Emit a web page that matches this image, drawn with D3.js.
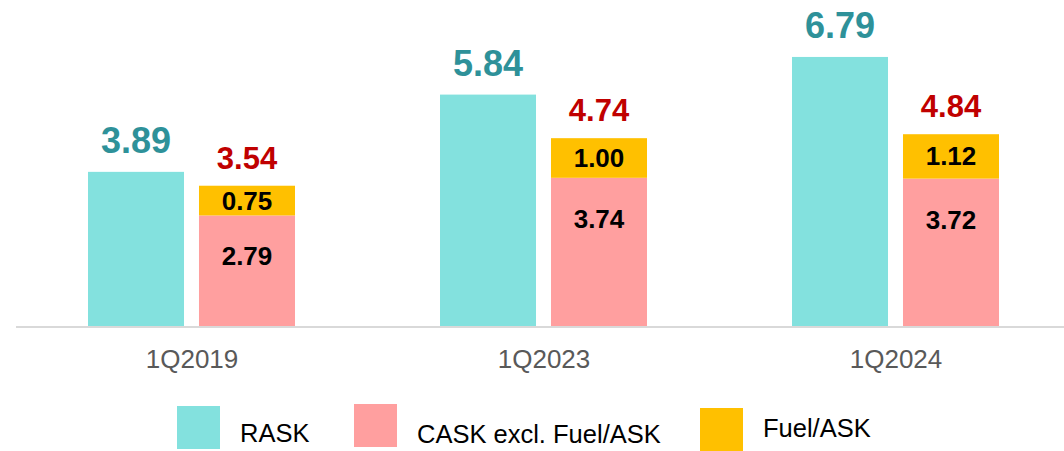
<!DOCTYPE html>
<html>
<head>
<meta charset="utf-8">
<script src="https://cdn.jsdelivr.net/npm/d3@7/dist/d3.min.js"></script>
<style>
  html, body { margin: 0; padding: 0; background: #fff; }
  svg { display: block; font-family: "Liberation Sans", Arial, sans-serif; }
</style>
</head>
<body>
<svg id="chart" width="1064" height="451"></svg>
<script>
// Unit revenue vs unit cost (per ASK)
const quarters = ["1Q2019", "1Q2023", "1Q2024"];
const rask = [3.89, 5.84, 6.79];
const caskExFuel = [2.79, 3.74, 3.72];
const fuelAsk = [0.75, 1.00, 1.12];
const caskTotal = [3.54, 4.74, 4.84];
const legendLabels = ["RASK", "CASK excl. Fuel/ASK", "Fuel/ASK"];

const colors = {
  rask: "#83E1DE",
  cask: "#FF9F9F",
  fuel: "#FFC000",
  raskLabel: "#2E9199",
  totalLabel: "#C00000",
  axis: "#D9D9D9",
  category: "#595959"
};

const svg = d3.select("#chart");
const baseY = 326;

const x0 = d3.scaleBand().domain(quarters).range([16, 1072]).padding(0);
const x1 = d3.scaleBand().domain(["RASK", "CASK"]).range([72, 279]).paddingInner(0.135).paddingOuter(0);
const y = d3.scaleLinear().domain([0, 8]).range([baseY, 9]);

const data = quarters.map((q, i) => ({
  q, rask: rask[i], cask: caskExFuel[i], fuel: fuelAsk[i], total: caskTotal[i]
}));

const groups = svg.selectAll("g.group").data(data).join("g")
  .attr("class", "group")
  .attr("transform", d => `translate(${x0(d.q)},0)`);

// RASK bars
groups.append("rect")
  .attr("x", x1("RASK")).attr("width", x1.bandwidth())
  .attr("y", d => y(d.rask)).attr("height", d => y(0) - y(d.rask))
  .attr("fill", colors.rask);

// CASK excl. fuel (bottom of stack)
groups.append("rect")
  .attr("x", x1("CASK")).attr("width", x1.bandwidth())
  .attr("y", d => y(d.cask)).attr("height", d => y(0) - y(d.cask))
  .attr("fill", colors.cask);

// Fuel/ASK stacked on top
groups.append("rect")
  .attr("x", x1("CASK")).attr("width", x1.bandwidth())
  .attr("y", d => y(d.cask + d.fuel)).attr("height", d => y(d.cask) - y(d.cask + d.fuel))
  .attr("fill", colors.fuel);

// RASK value labels
groups.append("text")
  .attr("x", x1("RASK") + x1.bandwidth() / 2)
  .attr("y", d => y(d.rask) - 19)
  .attr("text-anchor", "middle")
  .attr("font-size", 36).attr("font-weight", "bold")
  .attr("fill", colors.raskLabel)
  .text(d => d.rask.toFixed(2));

// Total CASK labels
groups.append("text")
  .attr("x", x1("CASK") + x1.bandwidth() / 2)
  .attr("y", d => y(d.cask + d.fuel) - 17)
  .attr("text-anchor", "middle")
  .attr("font-size", 31).attr("font-weight", "bold")
  .attr("fill", colors.totalLabel)
  .text(d => d.total.toFixed(2));

// Fuel segment labels
groups.append("text")
  .attr("x", x1("CASK") + x1.bandwidth() / 2)
  .attr("y", d => (y(d.cask) + y(d.cask + d.fuel)) / 2 + 9)
  .attr("text-anchor", "middle")
  .attr("font-size", 26).attr("font-weight", "bold")
  .attr("fill", "#000")
  .text(d => d.fuel.toFixed(2));

// CASK excl. fuel segment labels
groups.append("text")
  .attr("x", x1("CASK") + x1.bandwidth() / 2)
  .attr("y", d => y(d.cask) + 50)
  .attr("text-anchor", "middle")
  .attr("font-size", 26).attr("font-weight", "bold")
  .attr("fill", "#000")
  .text(d => d.cask.toFixed(2));

// Category axis
const xAxis = svg.append("g")
  .attr("transform", `translate(0,${baseY + 1})`)
  .call(d3.axisBottom(x0).tickSize(0).tickPadding(0));
xAxis.select(".domain").attr("stroke", colors.axis).attr("stroke-width", 2)
  .attr("d", "M16,0H1064");
xAxis.selectAll(".tick text")
  .attr("y", 0).attr("dy", 0)
  .attr("transform", "translate(0,41)")
  .attr("font-family", "Liberation Sans, Arial, sans-serif")
  .attr("font-size", 26).attr("fill", colors.category);

// Legend
const legendItems = [
  { label: legendLabels[0], color: colors.rask, x: 177, y: 406, ty: 36 },
  { label: legendLabels[1], color: colors.cask, x: 354, y: 404, ty: 39 },
  { label: legendLabels[2], color: colors.fuel, x: 700, y: 408, ty: 29 }
];
const leg = svg.selectAll("g.legend").data(legendItems).join("g")
  .attr("class", "legend")
  .attr("transform", d => `translate(${d.x},${d.y})`);
leg.append("rect").attr("width", 43).attr("height", 43).attr("fill", d => d.color);
leg.append("text")
  .attr("x", 63).attr("y", d => d.ty)
  .attr("font-size", 25.5).attr("fill", "#000")
  .text(d => d.label);
</script>
</body>
</html>
